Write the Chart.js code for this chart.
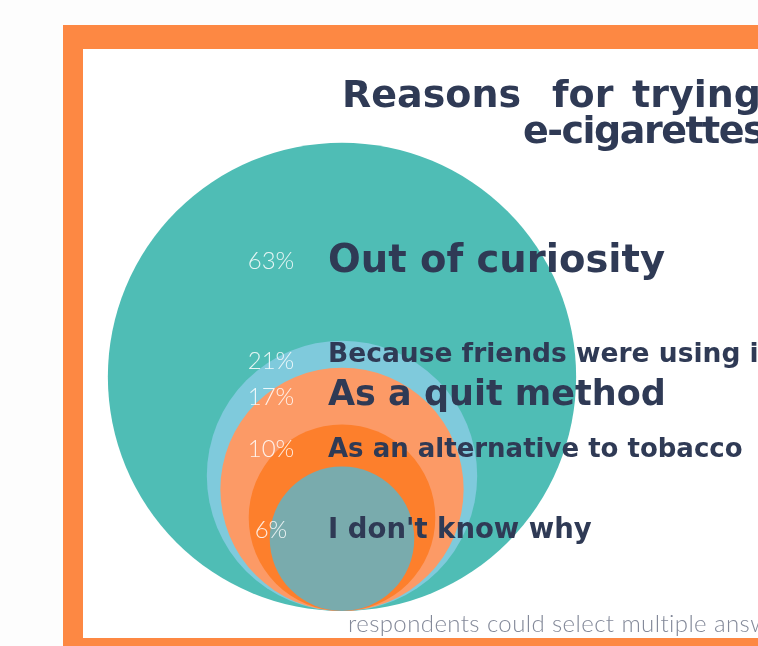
<!DOCTYPE html>
<html>
<head>
<meta charset="utf-8">
<style>
  html, body { margin: 0; padding: 0; background: #fdfdfd; }
  canvas { display: block; }
</style>
<script src="https://cdn.jsdelivr.net/npm/chart.js@4"></script>
</head>
<body>
<canvas id="chartReasons" width="758" height="646"></canvas>
<script>
const categories = [
  'Out of curiosity',
  'Because friends were using it',
  'As a quit method',
  'As an alternative to tobacco',
  "I don't know why"
];
const shares = [63, 21, 17, 10, 6];
const colors = ['#4fbdb5', '#7fcadc', '#fc9a66', '#fd7f2c', '#79abad'];

// layout
const W = 758, H = 646;
const baseY = 611;       // circles sit on this line
const centerX = 342;
const radiusPerRoot = 29.5; // circle area follows the share
const navy = '#2f3a55';
const heavy = '"DejaVu Sans"';

const rowText = [
  { y: 272, py: 269, font: 'bold 38.5px ' + heavy },
  { y: 362, py: 369, font: 'bold 26.5px ' + heavy },
  { y: 405, py: 405, font: 'bold 35px ' + heavy },
  { y: 457, py: 457, font: 'bold 26px ' + heavy },
  { y: 538, py: 538, font: 'bold 27.5px ' + heavy }
];

const bubbles = shares.map(v => {
  const r = radiusPerRoot * Math.sqrt(v);
  return { x: centerX, y: r, r: r };
});

const frame = {
  id: 'frame',
  beforeDraw(chart) {
    const c = chart.ctx;
    c.save();
    c.fillStyle = '#fdfdfd';
    c.fillRect(0, 0, W, H);
    c.fillStyle = '#fd8843';
    c.fillRect(63, 25, W, H);
    c.fillStyle = '#ffffff';
    c.fillRect(83, 49, W, 638 - 49);
    c.restore();
  }
};

const textLayer = {
  id: 'textLayer',
  afterDatasetsDraw(chart) {
    const c = chart.ctx;
    c.save();
    c.textBaseline = 'alphabetic';

    // title, words spread out
    c.fillStyle = navy;
    c.font = 'bold 38px ' + heavy;
    c.textAlign = 'left';
    c.fillText('Reasons', 342, 107);
    c.fillText('for', 552, 107);
    c.fillText('trying', 632, 107);
    c.letterSpacing = '-1.5px';
    c.fillText('e-cigarettes', 523, 143);
    c.letterSpacing = '0px';

    categories.forEach((label, i) => {
      const t = rowText[i];
      c.fillStyle = 'rgba(255,255,255,0.85)';
      c.font = '300 24px Lato';
      c.textAlign = 'center';
      c.fillText(shares[i] + '%', 271, t.py);
      c.fillStyle = navy;
      c.font = t.font;
      c.textAlign = 'left';
      c.fillText(label, 328, t.y);
    });

    c.fillStyle = '#838999';
    c.font = '300 24px Lato';
    c.letterSpacing = '0.4px';
    c.fillText('respondents could select multiple answers', 348, 632);
    c.restore();
  }
};

new Chart(document.getElementById('chartReasons'), {
  type: 'bubble',
  data: {
    labels: categories,
    datasets: [{
      data: bubbles,
      backgroundColor: colors,
      borderWidth: 0,
      hoverBorderWidth: 0,
      clip: false
    }]
  },
  options: {
    responsive: false,
    animation: false,
    events: [],
    layout: { autoPadding: false, padding: { left: 0, right: 0, top: 0, bottom: H - baseY } },
    plugins: { legend: { display: false }, tooltip: { enabled: false } },
    scales: {
      x: { type: 'linear', display: false, min: 0, max: W },
      y: { type: 'linear', display: false, min: 0, max: baseY }
    }
  },
  plugins: [frame, textLayer]
});
</script>
</body>
</html>
